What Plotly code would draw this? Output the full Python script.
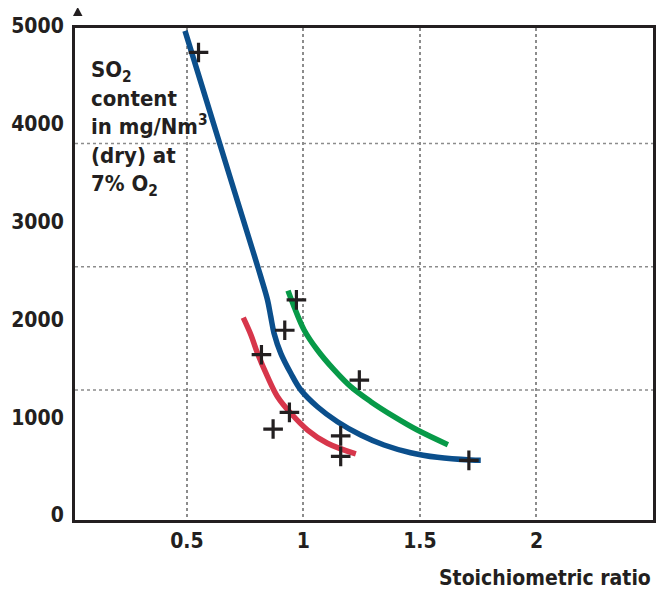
import plotly.graph_objects as go

# ---- data ----
blue_x = [0.492, 0.689, 0.782, 0.817, 0.846, 0.860, 0.874, 0.903, 0.946, 0.989, 1.060, 1.146,
          1.246, 1.346, 1.460, 1.575, 1.718, 1.761]
blue_y = [5000, 3476, 2761, 2488, 2249, 2079, 1909, 1704, 1500, 1329, 1158, 1005,
          869, 767, 688, 641, 613, 610]

red_x = [0.742, 0.775, 0.803, 0.846, 0.889, 0.946, 1.018, 1.103, 1.225]
red_y = [2069, 1892, 1705, 1466, 1261, 1091, 920, 784, 675]

green_x = [0.934, 0.960, 1.003, 1.060, 1.132, 1.203, 1.289, 1.389, 1.489, 1.620]
green_y = [2345, 2181, 1943, 1738, 1534, 1363, 1210, 1057, 920, 770]

meas_x = [0.55, 0.97, 0.92, 0.82, 1.24, 0.94, 0.87, 1.16, 1.16, 1.71]
meas_y = [4780, 2250, 1940, 1690, 1430, 1100, 930, 860, 650, 610]

x_ticks = [0.5, 1, 1.5, 2]
x_tick_text = ["0.5", "1", "1.5", "2"]
y_ticks = [0, 1000, 2000, 3000, 4000, 5000]
y_grid = [1330, 2590, 3850]

FONT = "DejaVu Sans Condensed, Liberation Sans Narrow, Arial Narrow, sans-serif"
INK = "#231f20"

# page body has an 8px margin: plot area on screen = x 75..653, y 28..520
W, H = 657, 581
ML, MT, MR, MB = 67, 20, 12, 69
PW, PH = 578, 492


def px2paper(sx, sy):
    return (sx - 75) / PW, (520 - sy) / PH


fig = go.Figure()
fig.add_trace(go.Scatter(x=blue_x, y=blue_y, mode="lines", line=dict(color="#0b4f8c", width=5.5, shape="spline", smoothing=1.0), showlegend=False))
fig.add_trace(go.Scatter(x=red_x, y=red_y, mode="lines", line=dict(color="#d7364b", width=5.5, shape="spline", smoothing=1.0), showlegend=False))
fig.add_trace(go.Scatter(x=green_x, y=green_y, mode="lines", line=dict(color="#079a48", width=5.5, shape="spline", smoothing=1.0), showlegend=False))
fig.add_trace(go.Scatter(x=meas_x, y=meas_y, mode="markers",
                         marker=dict(symbol="cross-thin", size=14, line=dict(color=INK, width=3.2)),
                         showlegend=False))

for gy in y_grid:
    fig.add_shape(type="line", xref="paper", x0=0, x1=1, yref="y", y0=gy, y1=gy,
                  line=dict(color="#8c8c8c", width=1.5, dash="dot"), layer="below")

# axis arrows
a = px2paper(73, 16); b = px2paper(82.5, 16); c = px2paper(77.7, 7)
fig.add_shape(type="path", xref="paper", yref="paper",
              path="M %f %f L %f %f L %f %f Z" % (a + b + c), fillcolor=INK, line=dict(width=0))
a = px2paper(659, 515.5); b = px2paper(659, 525.5); c = px2paper(668, 520.5)
fig.add_shape(type="path", xref="paper", yref="paper",
              path="M %f %f L %f %f L %f %f Z" % (a + b + c), fillcolor=INK, line=dict(width=0))

fig.add_annotation(xref="paper", yref="paper", x=0.024, y=0.945, xanchor="left", yanchor="top", align="left",
                   showarrow=False,
                   text="SO<sub>2</sub><br>content<br>in mg/Nm<sup>3</sup><br>(dry) at<br>7% O<sub>2</sub>",
                   font=dict(family=FONT, size=22, color=INK, weight="bold"))
fig.add_annotation(xref="paper", yref="paper", x=1.0, y=-0.118, xanchor="right", yanchor="middle",
                   showarrow=False, text="Stoichiometric ratio",
                   font=dict(family=FONT, size=21, color=INK, weight="bold"))

fig.update_xaxes(range=[0.02, 2.5], tickvals=x_ticks, ticktext=x_tick_text,
                 showgrid=True, gridcolor="#8c8c8c", griddash="dot", gridwidth=1.5,
                 showline=True, linecolor=INK, linewidth=3, mirror=True, zeroline=False,
                 ticks="", tickfont=dict(family=FONT, size=21, color=INK, weight="bold"),
                 ticklabelstandoff=0, automargin=False)
fig.update_yaxes(range=[0, 5030], tickvals=y_ticks,
                 showgrid=False, showline=True, linecolor=INK, linewidth=3, mirror=True, zeroline=False,
                 ticks="", tickfont=dict(family=FONT, size=21, color=INK, weight="bold"),
                 ticklabelstandoff=4, ticklabelshift=-5, automargin=False)

fig.update_layout(width=W, height=H, margin=dict(l=ML, r=MR, t=MT, b=MB),
                  plot_bgcolor="white", paper_bgcolor="white")

fig.write_html("out.html")
